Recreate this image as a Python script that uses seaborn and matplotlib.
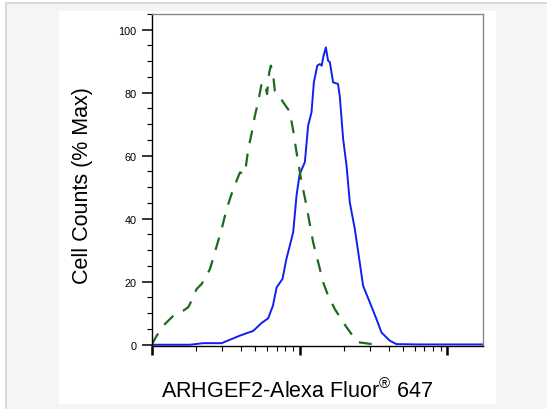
import numpy as np
import pandas as pd
import matplotlib
matplotlib.use("Agg")
import matplotlib.pyplot as plt
from matplotlib.patches import Rectangle
from matplotlib.ticker import FixedLocator, MultipleLocator, NullFormatter
import seaborn as sns

# -----------------------------
# Data, x given as log10 of intensity
# -----------------------------
stained_log = [1.0, 1.259, 1.349, 1.473, 1.597, 1.687, 1.743, 1.788, 1.82, 1.845,
               1.885, 1.91, 1.957, 1.98, 2.0, 2.036, 2.058, 2.081, 2.097, 2.12,
               2.137, 2.15, 2.16, 2.178, 2.193, 2.205, 2.227, 2.26, 2.272, 2.295,
               2.318, 2.34, 2.374, 2.407, 2.43, 2.475, 2.52, 2.554, 2.61, 2.655,
               2.8, 3.0, 3.243]
stained_pct = [0, 0, 0.5, 0.5, 2.9, 4.4, 6.9, 8.4, 12.4, 18.2,
               20.9, 27, 35.7, 47.5, 54, 58, 69.5, 73.8, 83.3, 88.6,
               89.1, 88.6, 91.2, 94.4, 90.2, 89.7, 83.3, 82.8, 79, 65.3,
               56.8, 45.2, 36.7, 26.2, 18.7, 13.5, 8.2, 3.9, 1.3, 0.2,
               0.1, 0.1, 0.1]

control_log = [1.0, 1.034, 1.09, 1.146, 1.213, 1.247, 1.27, 1.304, 1.338, 1.394,
               1.44, 1.473, 1.507, 1.551, 1.597, 1.63, 1.653, 1.675, 1.698, 1.72,
               1.743, 1.766, 1.78, 1.795, 1.806, 1.822, 1.833, 1.855, 1.889, 1.934,
               1.957, 1.98, 2.01, 2.047, 2.092, 2.126, 2.16, 2.193, 2.239, 2.295,
               2.351, 2.396, 2.475, 2.554]
control_pct = [0, 2.9, 6.6, 9.2, 10.8, 11.9, 14, 17.7, 19.3, 24,
               31.4, 36.7, 43.1, 49.4, 54.7, 54.2, 62.1, 66.9, 72.7, 77,
               82.8, 83.3, 79.6, 86.5, 88.6, 85.4, 80.6, 79.6, 77, 74,
               68, 61, 52.6, 44.1, 32.5, 26.2, 19.8, 15.6, 11.3, 7.1,
               3.4, 0.8, 0.3, 0]

y_ticks = [0, 20, 40, 60, 80, 100]
x_major = [10, 100, 1000]

stained = pd.DataFrame({"x": 10 ** np.array(stained_log), "y": stained_pct})
control = pd.DataFrame({"x": 10 ** np.array(control_log), "y": control_pct})

sns.set_style("ticks")
plt.rcParams["font.family"] = ["Liberation Sans", "DejaVu Sans"]
plt.rcParams["mathtext.fontset"] = "custom"
plt.rcParams["mathtext.rm"] = "Liberation Sans"
plt.rcParams["mathtext.it"] = "Liberation Sans"

W, H = 547, 410
fig = plt.figure(figsize=(W / 100, H / 100), dpi=100, facecolor="white")

# grey card frame and white panel
fig.patches.append(Rectangle((5.5 / W, -0.05), 1.0, 1 - 3.5 / H + 0.05,
                             transform=fig.transFigure, facecolor="#f5f5f5",
                             edgecolor="#dadada", lw=1.4, zorder=-2))
fig.patches.append(Rectangle((59 / W, 1 - 405 / H), (496 - 59) / W, (405 - 12) / H,
                             transform=fig.transFigure, facecolor="white",
                             edgecolor="none", zorder=-1))

ax = fig.add_axes([151.7 / W, 1 - 347 / H, (483.3 - 151.7) / W, (347 - 15) / H])
ax.set_zorder(2)
ax.set_facecolor("white")
ax.set_xscale("log")

sns.lineplot(data=stained, x="x", y="y", ax=ax, color="#1020f0", lw=1.4,
             sort=False, estimator=None)
sns.lineplot(data=control, x="x", y="y", ax=ax, color="#1e6a1e", lw=1.6,
             sort=False, estimator=None)
ax.lines[-1].set_dashes([5.8, 4.8])

ax.set_xlim(10, 10 ** 3.243)
ax.set_ylim(-0.4, 105)

# ticks
ax.xaxis.set_major_locator(FixedLocator(x_major))
ax.xaxis.set_minor_locator(FixedLocator([m * d for d in (10, 100, 1000) for m in range(2, 10)]))
ax.xaxis.set_major_formatter(NullFormatter())
ax.xaxis.set_minor_formatter(NullFormatter())
ax.set_yticks(y_ticks)
ax.yaxis.set_minor_locator(MultipleLocator(5))

ax.tick_params(axis="x", which="major", length=6.5, width=1.8, color="black",
               direction="out", bottom=True)
ax.tick_params(axis="x", which="minor", length=3.6, width=0.8, color="black",
               direction="out", bottom=True)
ax.tick_params(axis="y", which="major", length=7, width=1.1, color="black",
               direction="out", left=True, labelsize=7.8, pad=4, labelcolor="black")
ax.tick_params(axis="y", which="minor", length=3.6, width=0.8, color="black",
               direction="out", left=True)

for side in ("left", "bottom"):
    ax.spines[side].set_color("black")
    ax.spines[side].set_linewidth(1.0)
for side in ("top", "right"):
    ax.spines[side].set_color("#8a8a8a")
    ax.spines[side].set_linewidth(1.0)

ax.set_xlabel("")
ax.set_ylabel("")

fig.text(82.5 / W, 1 - 186 / H, "Cell Counts (% Max)", rotation=90,
         ha="center", va="center", fontsize=15.5, color="black")
fig.text(297.4 / W, 1 - 398 / H, "ARHGEF2-Alexa Fluor$^{\u00ae}$ 647",
         ha="center", va="baseline", fontsize=15.5, color="black")

fig.savefig("out.png", dpi=100)
